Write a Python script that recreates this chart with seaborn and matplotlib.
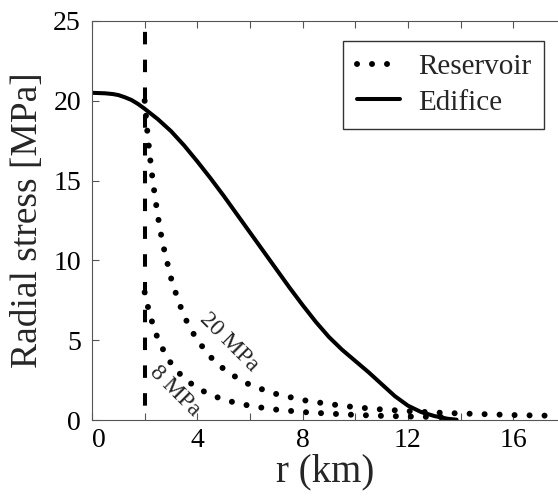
import matplotlib
matplotlib.use("Agg")
import matplotlib.pyplot as plt
import seaborn as sns

# radius of the chamber (dashed line), km
r_chamber = 2.0

# edifice load, radial stress
r_edifice = [0.0, 0.5, 0.8, 1.0, 1.25, 1.5, 1.75, 2.0, 2.5, 3.0, 3.5, 4.0, 4.5, 5.0,
             5.5, 6.0, 6.5, 7.0, 7.5, 8.0, 8.5, 9.0, 9.5, 10.0, 10.5, 11.0, 11.5,
             12.0, 12.5, 13.0, 13.5, 13.85]
s_edifice = [20.5, 20.47, 20.42, 20.36, 20.22, 20.05, 19.8, 19.5, 18.85, 18.1, 17.2,
             16.2, 15.15, 14.05, 12.9, 11.75, 10.6, 9.45, 8.3, 7.2, 6.15, 5.2, 4.4,
             3.7, 3.0, 2.25, 1.5, 0.9, 0.5, 0.25, 0.08, 0.02]

# reservoir overpressure 20 MPa
r_res20 = [2.0, 2.1, 2.2, 2.3, 2.4, 2.5, 2.6, 2.75, 3.0, 3.25, 3.5, 3.75, 4.0, 4.5,
           5.0, 5.5, 6.0, 6.5, 7.0, 8.0, 9.0, 10.0, 11.0, 12.0, 13.0, 14.0, 15.0,
           16.0, 17.0, 18.0]
s_res20 = [20.0, 18.1, 16.5, 15.1, 13.9, 12.8, 11.8, 10.6, 8.9, 7.6, 6.5, 5.7, 5.0,
           3.95, 3.2, 2.65, 2.2, 1.9, 1.63, 1.25, 1.0, 0.8, 0.66, 0.56, 0.47, 0.41,
           0.36, 0.31, 0.28, 0.25]

# reservoir overpressure 8 MPa
r_res8 = [2.0, 2.1, 2.2, 2.3, 2.4, 2.5, 2.6, 2.75, 3.0, 3.25, 3.5, 3.75, 4.0, 4.5,
          5.0, 5.5, 6.0, 6.5, 7.0, 8.0, 9.0, 10.0, 11.0, 12.0, 13.0, 13.3]
s_res8 = [8.0, 7.25, 6.6, 6.05, 5.55, 5.1, 4.75, 4.25, 3.55, 3.05, 2.6, 2.3, 2.0,
          1.58, 1.28, 1.06, 0.89, 0.76, 0.65, 0.5, 0.4, 0.32, 0.26, 0.22, 0.19, 0.18]

xticks = [0, 4, 8, 12, 16]
yticks = [0, 5, 10, 15, 20, 25]

sns.set_style("white")
plt.rcParams["font.family"] = "serif"
plt.rcParams["font.serif"] = ["Liberation Serif", "Tinos", "DejaVu Serif"]

fig = plt.figure(figsize=(5.58, 4.96), dpi=100)
ax = fig.add_axes([92 / 558, 76 / 496, 466 / 558, 399 / 496])

dots = (0, (0.01, 2.5))
sns.lineplot(x=r_res20, y=s_res20, ax=ax, color="k", lw=4.3, linestyle=dots,
             dash_capstyle="round", label="Reservoir")
sns.lineplot(x=r_res8, y=s_res8, ax=ax, color="k", lw=4.3, linestyle=dots,
             dash_capstyle="round")
sns.lineplot(x=r_edifice, y=s_edifice, ax=ax, color="k", lw=2.9, label="Edifice")
ax.plot([r_chamber, r_chamber], [25, 0], color="k", lw=2.9,
        linestyle=(4.2, (3.1, 3.8)), dash_capstyle="butt")

ax.text(5.2, 4.9, "20 MPa", rotation=-45, fontsize=17, ha="center", va="center")
ax.text(3.15, 1.8, "8 MPa", rotation=-45, fontsize=17, ha="center", va="center")

ax.set_xlim(0, 17.7)
ax.set_ylim(0, 25)
ax.set_xticks(range(0, 18, 2), minor=True)
ax.set_xticks(xticks)
ax.set_yticks(yticks)
ax.tick_params(axis="both", which="both", direction="in", colors="#555555",
               labelcolor="k", labelsize=20, top=True, left=True, bottom=True,
               right=False, width=0.8)
ax.tick_params(axis="both", which="major", length=5)
ax.tick_params(axis="x", which="minor", length=5)
ax.tick_params(axis="x", pad=6)
ax.tick_params(axis="y", pad=8)
ax.get_xticklabels()[0].set_ha("left")

for side in ["left", "bottom", "top"]:
    ax.spines[side].set_color("#555555")
    ax.spines[side].set_linewidth(0.8)
ax.spines["right"].set_visible(False)

ax.set_xlabel("r (km)", fontsize=28, labelpad=0)
ax.set_ylabel("Radial stress [MPa]", fontsize=27, labelpad=6)

leg = ax.legend(loc="upper right", bbox_to_anchor=(0.97, 0.95), borderaxespad=0,
                fontsize=21, frameon=True, fancybox=False, handlelength=1.5,
                handletextpad=0.6, labelspacing=0.3, borderpad=0.45)
leg.get_frame().set_edgecolor("k")
leg.get_frame().set_linewidth(1.0)

fig.savefig("out.png", dpi=100)
